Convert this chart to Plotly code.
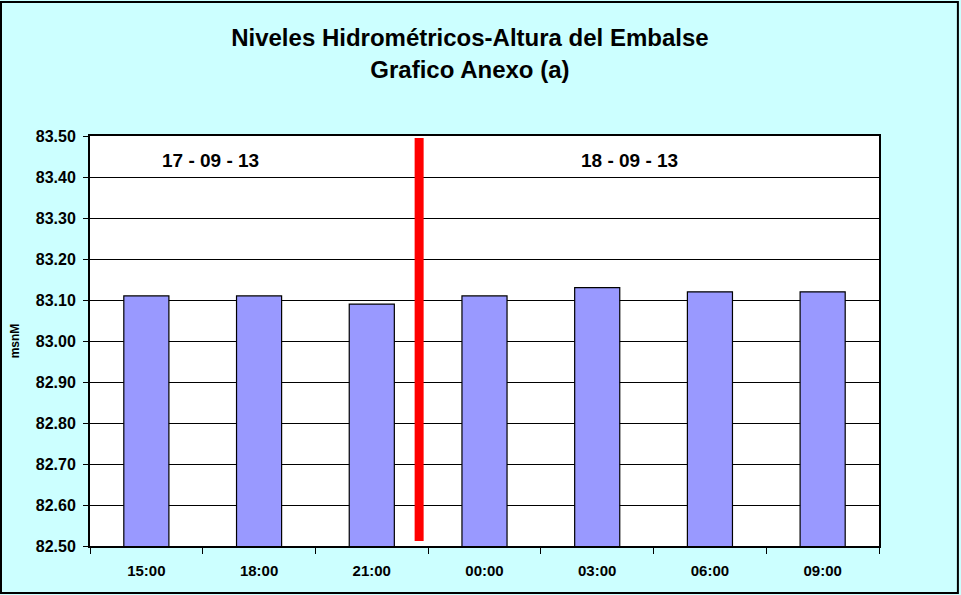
import plotly.graph_objects as go

categories = ["15:00", "18:00", "21:00", "00:00", "03:00", "06:00", "09:00"]
levels = [83.11, 83.11, 83.09, 83.11, 83.13, 83.12, 83.12]
date_labels = ["17 - 09 - 13", "18 - 09 - 13"]
date_label_x = [0.57, 4.285]
date_label_y = 83.44
separator_x = 2.42
separator_y = [82.512, 83.495]

FONT = "Liberation Sans, Arial, sans-serif"

fig = go.Figure()
fig.add_trace(go.Bar(
    x=categories, y=levels, width=0.4,
    marker=dict(color="#9999FF", line=dict(color="black", width=1.2)),
))

fig.add_shape(type="line", xref="x", yref="y",
              x0=separator_x, x1=separator_x, y0=separator_y[0], y1=separator_y[1],
              line=dict(color="#FF0000", width=9), layer="above")

for txt, xv in zip(date_labels, date_label_x):
    fig.add_annotation(x=xv, y=date_label_y, xref="x", yref="y", text="<b>" + txt + "</b>",
                       showarrow=False, font=dict(family=FONT, size=19, color="black"))

# outer chart frame
fig.add_shape(type="rect", xref="paper", yref="paper",
              x0=-0.1128, x1=1.100, y0=-0.1146, y1=1.3268,
              line=dict(color="black", width=2), layer="below")

fig.update_layout(
    width=961, height=595,
    margin=dict(l=90, r=82, t=136, b=49),
    paper_bgcolor="#CCFFFF", plot_bgcolor="white",
    showlegend=False,
    font=dict(family=FONT, color="black"),
    title=dict(text="<b>Niveles Hidrométricos-Altura del Embalse<br>Grafico Anexo (a)</b>",
               x=0.489, xanchor="center", y=0.922, yanchor="middle",
               font=dict(family=FONT, size=24, color="black")),
)
fig.update_xaxes(
    type="category", range=[-0.5, 6.5],
    showline=True, linecolor="black", linewidth=2, mirror=True,
    ticks="outside", ticklen=6, tickcolor="black", tickwidth=1, tickson="boundaries",
    ticklabelstandoff=10,
    tickfont=dict(family=FONT, size=15, color="black", weight="bold"),
    showgrid=False,
)
fig.update_yaxes(
    range=[82.5, 83.5], dtick=0.1, tick0=82.5, tickformat=".2f",
    showline=True, linecolor="black", linewidth=2, mirror=True,
    ticks="outside", ticklen=5, tickcolor="black", tickwidth=1,
    ticklabelstandoff=4,
    showgrid=True, gridcolor="black", gridwidth=1,
    tickfont=dict(family=FONT, size=16, color="black", weight="bold"),
    title=dict(text="<b>msnM</b>", font=dict(family=FONT, size=12, color="black"), standoff=14),
)

fig.write_html("out.html", config={"displayModeBar": False},
               post_script="document.body.style.margin='0';")
